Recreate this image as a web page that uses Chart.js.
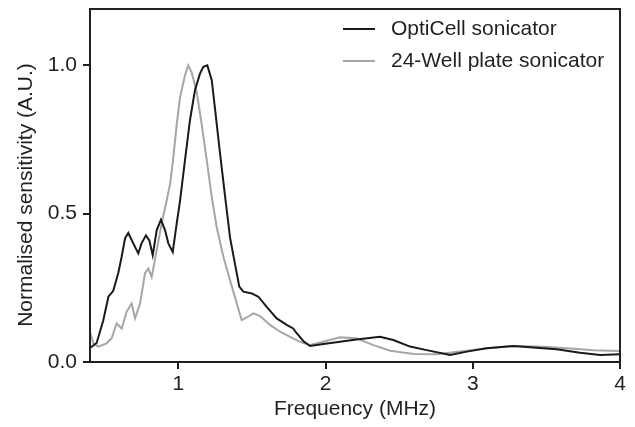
<!DOCTYPE html>
<html>
<head>
<meta charset="utf-8">
<script src="https://cdn.jsdelivr.net/npm/chart.js@4/dist/chart.umd.min.js"></script>
<style>
  html, body { margin: 0; padding: 0; background: #fff; }
  #wrap { width: 635px; height: 427px; }
</style>
</head>
<body>
<div id="wrap"><canvas id="sensChart"></canvas></div>
<script>
// Values
const seriesNames = ['OptiCell sonicator', '24-Well plate sonicator'];
const yTitle = 'Normalised sensitivity (A.U.)';
const xTitle = 'Frequency (MHz)';

const optiFreq = [0.40, 0.445, 0.49, 0.525, 0.558, 0.592, 0.615, 0.638, 0.66, 0.694, 0.728, 0.75, 0.78, 0.803, 0.826, 0.853, 0.882, 0.91, 0.932, 0.962, 0.989, 1.012, 1.045, 1.079, 1.113, 1.147, 1.17, 1.197, 1.227, 1.25, 1.284, 1.318, 1.351, 1.385, 1.414, 1.442, 1.499, 1.544, 1.60, 1.668, 1.736, 1.78, 1.804, 1.85, 1.895, 1.985, 2.098, 2.21, 2.37, 2.46, 2.574, 2.687, 2.846, 2.96, 3.094, 3.276, 3.41, 3.57, 3.729, 3.865, 4.0];
const optiVals = [0.047, 0.064, 0.14, 0.22, 0.24, 0.30, 0.355, 0.417, 0.435, 0.40, 0.366, 0.40, 0.427, 0.41, 0.36, 0.444, 0.48, 0.444, 0.40, 0.371, 0.467, 0.545, 0.68, 0.815, 0.916, 0.972, 0.995, 1.0, 0.95, 0.85, 0.70, 0.557, 0.42, 0.33, 0.254, 0.237, 0.231, 0.22, 0.186, 0.147, 0.125, 0.113, 0.097, 0.07, 0.054, 0.061, 0.068, 0.076, 0.085, 0.074, 0.052, 0.04, 0.024, 0.035, 0.046, 0.054, 0.049, 0.043, 0.031, 0.024, 0.026];

const wellFreq = [0.40, 0.423, 0.456, 0.513, 0.547, 0.581, 0.615, 0.649, 0.683, 0.706, 0.74, 0.774, 0.796, 0.819, 0.853, 0.887, 0.921, 0.944, 0.966, 0.989, 1.012, 1.045, 1.067, 1.09, 1.125, 1.159, 1.193, 1.227, 1.26, 1.306, 1.351, 1.397, 1.43, 1.465, 1.51, 1.555, 1.623, 1.691, 1.759, 1.827, 1.895, 1.985, 2.03, 2.098, 2.21, 2.325, 2.44, 2.60, 2.755, 2.914, 3.094, 3.276, 3.45, 3.64, 3.82, 4.0];
const wellVals = [0.10, 0.063, 0.052, 0.063, 0.08, 0.13, 0.113, 0.17, 0.197, 0.147, 0.197, 0.30, 0.315, 0.287, 0.377, 0.467, 0.545, 0.60, 0.69, 0.80, 0.893, 0.966, 1.0, 0.977, 0.91, 0.80, 0.68, 0.557, 0.456, 0.355, 0.276, 0.197, 0.141, 0.15, 0.164, 0.155, 0.125, 0.102, 0.085, 0.068, 0.057, 0.068, 0.074, 0.083, 0.08, 0.057, 0.038, 0.027, 0.026, 0.035, 0.046, 0.054, 0.052, 0.046, 0.04, 0.037];

const xTicks = [1, 2, 3, 4];
const yTicks = [0, 0.5, 1.0];

const fontFamily = '"Liberation Sans", Arial, sans-serif';
const fontSize = 21;
const axisColor = '#231f20';

function toPoints(xs, ys) {
    return xs.map(function(x, i) { return { x: x, y: ys[i] }; });
}

// box around the plot, y title and the legend inside the plot area
const framePlugin = {
    id: 'frame',
    afterDraw: function(chart) {
        const ctx = chart.ctx;
        const a = chart.chartArea;
        ctx.save();
        ctx.strokeStyle = axisColor;
        ctx.lineWidth = 2;
        ctx.strokeRect(a.left, a.top, a.right - a.left, a.bottom - a.top);

        ctx.font = fontSize + 'px ' + fontFamily;
        ctx.fillStyle = axisColor;
        ctx.textBaseline = 'middle';

        // y axis title
        ctx.save();
        ctx.translate(26, 195);
        ctx.rotate(-Math.PI / 2);
        ctx.textAlign = 'center';
        ctx.fillText(yTitle, 0, 0);
        ctx.restore();

        // legend
        ctx.textAlign = 'left';
        chart.data.datasets.forEach(function(ds, i) {
            const y = 29 + i * 32;
            ctx.strokeStyle = ds.borderColor;
            ctx.lineWidth = 2;
            ctx.beginPath();
            ctx.moveTo(343, y);
            ctx.lineTo(375, y);
            ctx.stroke();
            ctx.fillText(ds.label, 391, y);
        });
        ctx.restore();
    }
};

const chart = new Chart(document.getElementById('sensChart'), {
    type: 'line',
    data: {
        datasets: [{
            label: seriesNames[0],
            data: toPoints(optiFreq, optiVals),
            borderColor: '#1a1a1a',
            borderWidth: 2,
            pointRadius: 0,
            tension: 0
        }, {
            label: seriesNames[1],
            data: toPoints(wellFreq, wellVals),
            borderColor: '#a6a6a6',
            borderWidth: 2,
            pointRadius: 0,
            tension: 0
        }]
    },
    options: {
        responsive: true,
        maintainAspectRatio: false,
        animation: false,
        layout: { padding: { top: 9, right: 15, left: 0, bottom: 0 } },
        plugins: {
            legend: { display: false },
            tooltip: { enabled: false }
        },
        scales: {
            x: {
                type: 'linear',
                min: 0.4,
                max: 4,
                afterBuildTicks: function(scale) {
                    scale.ticks = xTicks.map(function(v) { return { value: v }; });
                },
                afterFit: function(scale) {
                    scale.height = 65;
                    scale.paddingLeft = 0;
                    scale.paddingRight = 0;
                },
                grid: { display: true, drawOnChartArea: false, drawTicks: true, tickLength: 7, color: axisColor, lineWidth: 2 },
                border: { display: true, color: axisColor, width: 2 },
                ticks: {
                    color: axisColor,
                    font: { family: fontFamily, size: fontSize },
                    padding: 3,
                    maxRotation: 0,
                    callback: function(v) { return String(v); }
                },
                title: {
                    display: true,
                    text: xTitle,
                    color: axisColor,
                    font: { family: fontFamily, size: fontSize },
                    padding: { top: 0, bottom: 5 }
                }
            },
            y: {
                min: 0,
                max: 1.19,
                afterBuildTicks: function(scale) {
                    scale.ticks = yTicks.map(function(v) { return { value: v }; });
                },
                afterFit: function(scale) {
                    scale.width = 90;
                    scale.paddingTop = 0;
                    scale.paddingBottom = 0;
                },
                grid: { display: true, drawOnChartArea: false, drawTicks: true, tickLength: 7, color: axisColor, lineWidth: 2 },
                border: { display: true, color: axisColor, width: 2 },
                ticks: {
                    color: axisColor,
                    font: { family: fontFamily, size: fontSize },
                    padding: 6,
                    callback: function(v) { return Number(v).toFixed(1); }
                }
            }
        }
    },
    plugins: [framePlugin]
});
</script>
</body>
</html>
